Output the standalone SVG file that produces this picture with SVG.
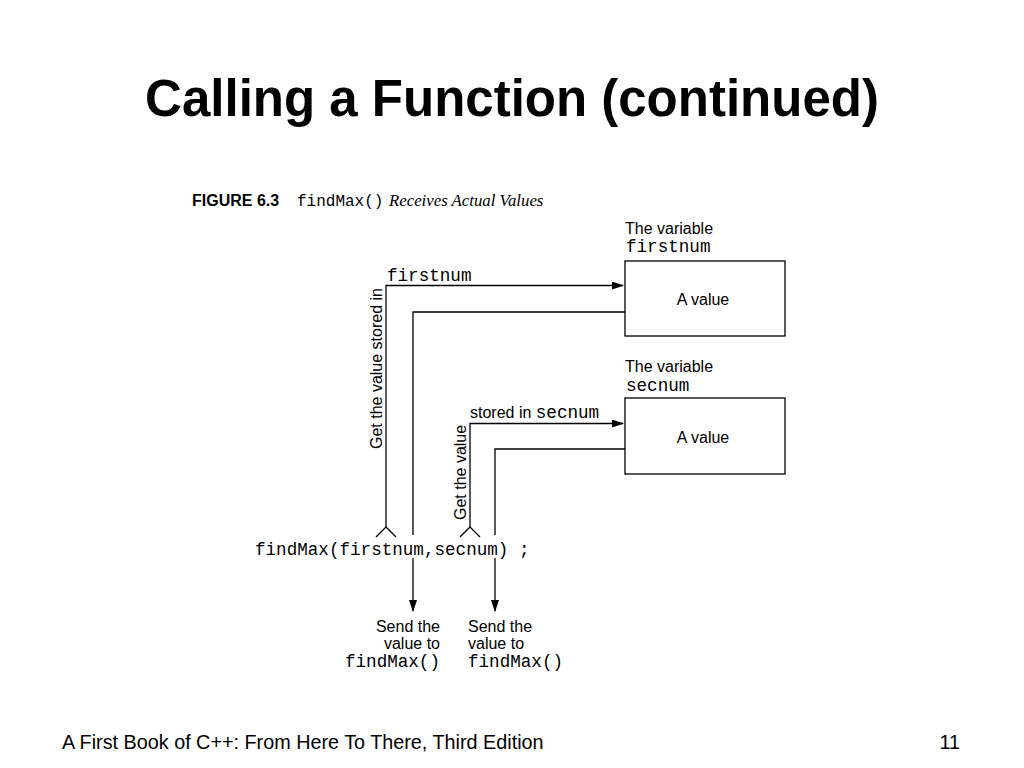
<svg xmlns="http://www.w3.org/2000/svg" width="1024" height="768" viewBox="0 0 1024 768">
<style>
.sans{font-family:"Liberation Sans",Arial,sans-serif;fill:#000}
.mono{font-family:"Liberation Mono","Courier New",monospace;fill:#000}
.lbl{font-size:16px}
.code{font-size:17.6px}
.ln{fill:none;stroke:#000;stroke-width:1.3}
.box{fill:#fff;stroke:#000;stroke-width:1.3}
</style>
<defs>
<marker id="ah" markerWidth="12" markerHeight="10" refX="11" refY="4" orient="auto" markerUnits="userSpaceOnUse">
<path d="M0,0 L12,4 L0,8 Z" fill="#000"/>
</marker>
</defs>
<rect width="1024" height="768" fill="#fff"/>
<text x="512" y="116" text-anchor="middle" class="sans" font-size="51" font-weight="bold">Calling a Function (continued)</text>
<g id="caption">
<text x="192" y="206" class="sans" font-size="16" font-weight="bold">FIGURE 6.3</text>
<text x="297" y="206" class="mono" font-size="16">findMax()</text>
<text x="389" y="206" font-family="Liberation Serif,'Times New Roman',serif" font-style="italic" font-size="16.8">Receives Actual Values</text>
</g>
<g id="var-firstnum">
<text x="625" y="234" class="sans lbl">The variable</text>
<text x="626" y="252" class="mono code">firstnum</text>
<rect x="625" y="261" width="160" height="75" class="box"/>
<text x="703" y="305" text-anchor="middle" class="sans lbl">A value</text>
</g>
<g id="var-secnum">
<text x="625" y="372" class="sans lbl">The variable</text>
<text x="626" y="391" class="mono code">secnum</text>
<rect x="625" y="398" width="160" height="76" class="box"/>
<text x="703" y="443" text-anchor="middle" class="sans lbl">A value</text>
</g>
<g id="call">
<text x="255" y="555" class="mono code">findMax(firstnum,secnum) ;</text>
</g>
<g id="send1">
<text x="440" y="632" text-anchor="end" class="sans lbl">Send the</text>
<text x="440" y="649" text-anchor="end" class="sans lbl">value to</text>
<text x="440" y="667" text-anchor="end" class="mono code">findMax()</text>
</g>
<g id="send2">
<text x="468" y="632" class="sans lbl">Send the</text>
<text x="468" y="649" class="sans lbl">value to</text>
<text x="468" y="667" class="mono code">findMax()</text>
</g>
<g id="connectors">
<path class="ln" d="M386,527 V285.5 H623" marker-end="url(#ah)"/>
<path class="ln" d="M376,537 L386,527 L396,537"/>
<text x="387" y="281" class="mono code">firstnum</text>
<text transform="translate(382,449) rotate(-90)" class="sans lbl">Get the value stored in</text>
<path class="ln" d="M625,312 H413 V535"/>
<path class="ln" d="M413,558 V611" marker-end="url(#ah)"/>
<path class="ln" d="M470,527 V423.5 H623" marker-end="url(#ah)"/>
<path class="ln" d="M460,537 L470,527 L480,537"/>
<text x="470" y="418" class="sans lbl">stored in <tspan class="mono code">secnum</tspan></text>
<text transform="translate(466,520) rotate(-90)" class="sans lbl">Get the value</text>
<path class="ln" d="M625,449 H495 V535"/>
<path class="ln" d="M495,558 V611" marker-end="url(#ah)"/>
</g>
<g id="footer">
<text x="62" y="749" class="sans" font-size="19.8">A First Book of C++: From Here To There, Third Edition</text>
<text x="960" y="749" text-anchor="end" class="sans" font-size="19.8">11</text>
</g>
</svg>
